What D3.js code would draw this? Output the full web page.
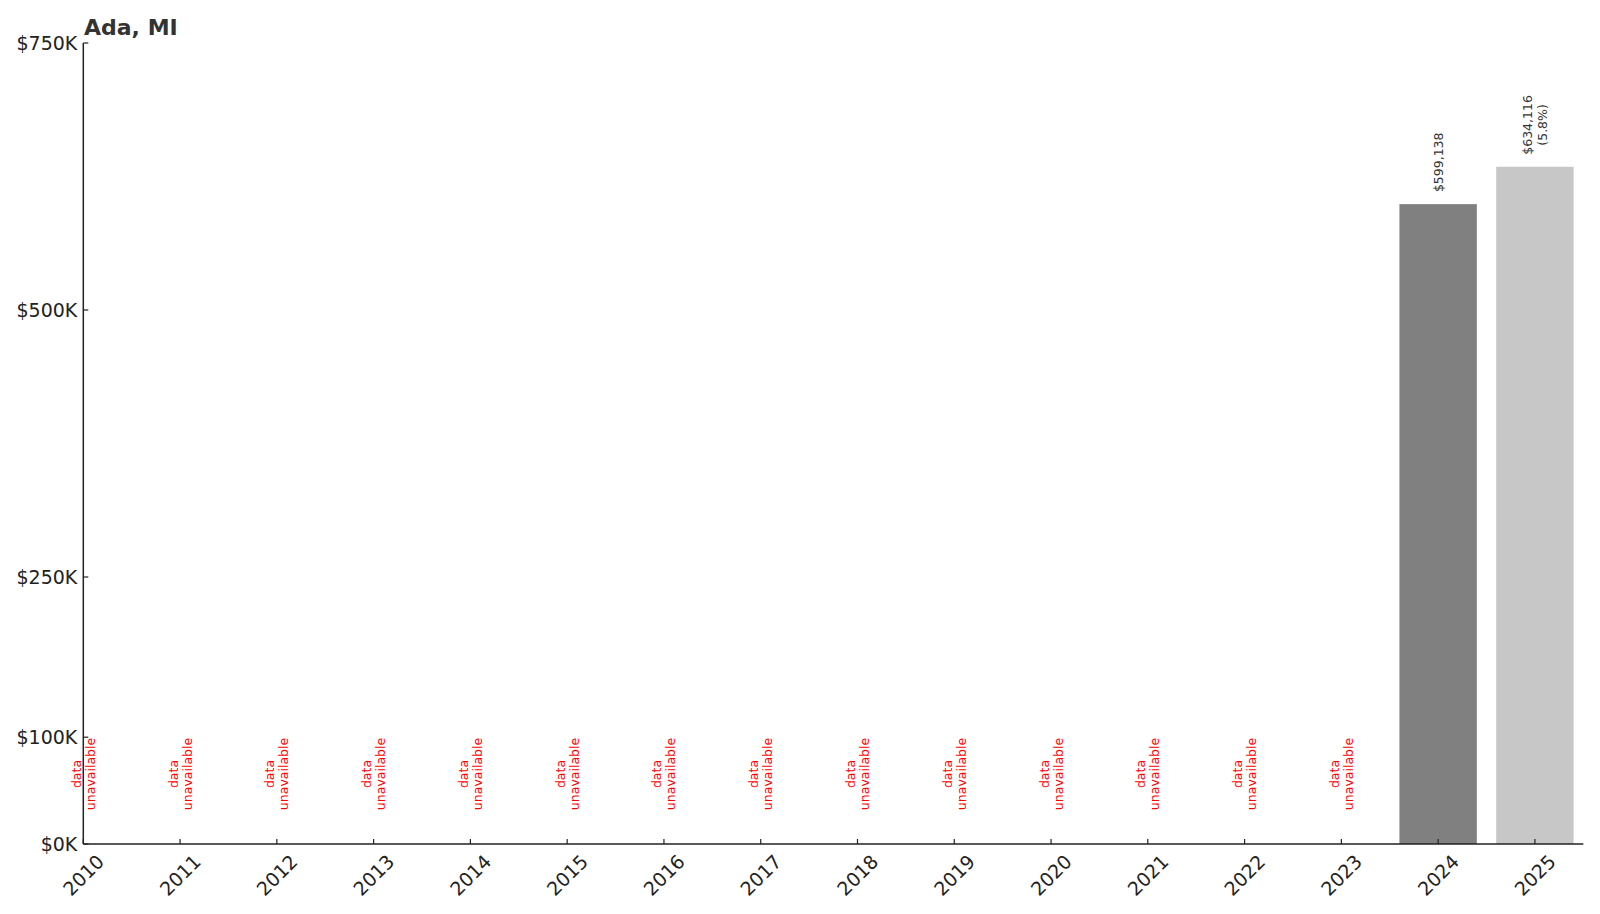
<!DOCTYPE html>
<html><head><meta charset="utf-8">
<script src="https://cdn.jsdelivr.net/npm/d3@7"></script>
<style>body{margin:0;background:#fff}svg{display:block;font-family:"DejaVu Sans",sans-serif}</style>
</head><body>
<svg id="c" width="1600" height="914"></svg>
<script>
const title = "Ada, MI";
const years = [2010,2011,2012,2013,2014,2015,2016,2017,2018,2019,2020,2021,2022,2023,2024,2025];
const values = [null,null,null,null,null,null,null,null,null,null,null,null,null,null,599138,634116];
const yTicks = [0,100000,250000,500000,750000];
const yTickLabels = ["$0K","$100K","$250K","$500K","$750K"];

const svg = d3.select("#c");
const x = d3.scaleLinear().domain([0, years.length - 0.5]).range([83.3, 1583.3]);
const y = d3.scaleLinear().domain([0, 750000]).range([844, 43]);
const step = x(1) - x(0);
const bw = step * 0.8;
const lastIdx = values.length - 1;

// bars
values.forEach((v, i) => {
  if (v == null) return;
  svg.append("rect")
    .attr("x", x(i) - bw / 2).attr("width", bw)
    .attr("y", y(v)).attr("height", y(0) - y(v))
    .attr("fill", i === lastIdx ? "#c7c7c7" : "#808080");
});

// value labels
function fmt(v){ return "$" + d3.format(",")(v); }
values.forEach((v, i) => {
  if (v == null) return;
  const lines = [fmt(v)];
  let prev = null;
  for (let j = i - 1; j >= 0; j--) if (values[j] != null) { prev = values[j]; break; }
  if (prev != null) lines.push("(" + d3.format(".1f")((v / prev - 1) * 100) + "%)");
  const g = svg.append("g").attr("transform", `translate(${x(i)},${y(v) - 12}) rotate(-90)`);
  const lh = 15;
  const n = lines.length;
  lines.forEach((t, k) => {
    g.append("text").attr("x", 0).attr("y", (k - (n - 1) / 2) * lh)
      .attr("dominant-baseline", "central").attr("text-anchor", "start")
      .attr("font-size", "12.5px").attr("fill", "#333").text(t);
  });
  const nodes = g.selectAll("text").nodes();
  const maxW = d3.max(nodes, nd => nd.getComputedTextLength());
  nodes.forEach(nd => d3.select(nd).attr("x", (maxW - nd.getComputedTextLength()) / 2));
});

// data unavailable labels
values.forEach((v, i) => {
  if (v != null) return;
  const g = svg.append("g").attr("transform", `translate(${x(i)},774) rotate(-90)`);
  ["data", "unavailable"].forEach((t, k) => {
    g.append("text").attr("x", 0).attr("y", (k - 0.5) * 14)
      .attr("dominant-baseline", "central").attr("text-anchor", "middle")
      .attr("font-size", "12.5px").attr("fill", "#ff0000").text(t);
  });
});

// axes
const axisColor = "#222";
svg.append("line").attr("x1", x(0)).attr("x2", x(0)).attr("y1", y(750000)).attr("y2", y(0))
  .attr("stroke", axisColor).attr("stroke-width", 1.5);
svg.append("line").attr("x1", x(0)).attr("x2", x(years.length - 0.5)).attr("y1", y(0)).attr("y2", y(0))
  .attr("stroke", axisColor).attr("stroke-width", 1.5);

yTicks.forEach((t, k) => {
  svg.append("line").attr("x1", x(0)).attr("x2", x(0) + 5).attr("y1", y(t)).attr("y2", y(t))
    .attr("stroke", axisColor).attr("stroke-width", 1.2);
  svg.append("text").attr("x", x(0) - 6).attr("y", y(t))
    .attr("text-anchor", "end").attr("dominant-baseline", "central")
    .attr("font-size", "19px").attr("fill", "#222").text(yTickLabels[k]);
});

years.forEach((yr, i) => {
  svg.append("line").attr("x1", x(i)).attr("x2", x(i)).attr("y1", y(0)).attr("y2", y(0) - 5)
    .attr("stroke", axisColor).attr("stroke-width", 1.2);
  svg.append("text").attr("transform", `translate(${x(i)},875) rotate(-45)`)
    .attr("text-anchor", "middle").attr("dominant-baseline", "central")
    .attr("font-size", "19px").attr("fill", "#222").text(yr);
});

svg.append("text").attr("x", 84).attr("y", 35)
  .attr("font-size", "22px").attr("font-weight", "bold").attr("fill", "#333").text(title);
</script>
</body></html>
